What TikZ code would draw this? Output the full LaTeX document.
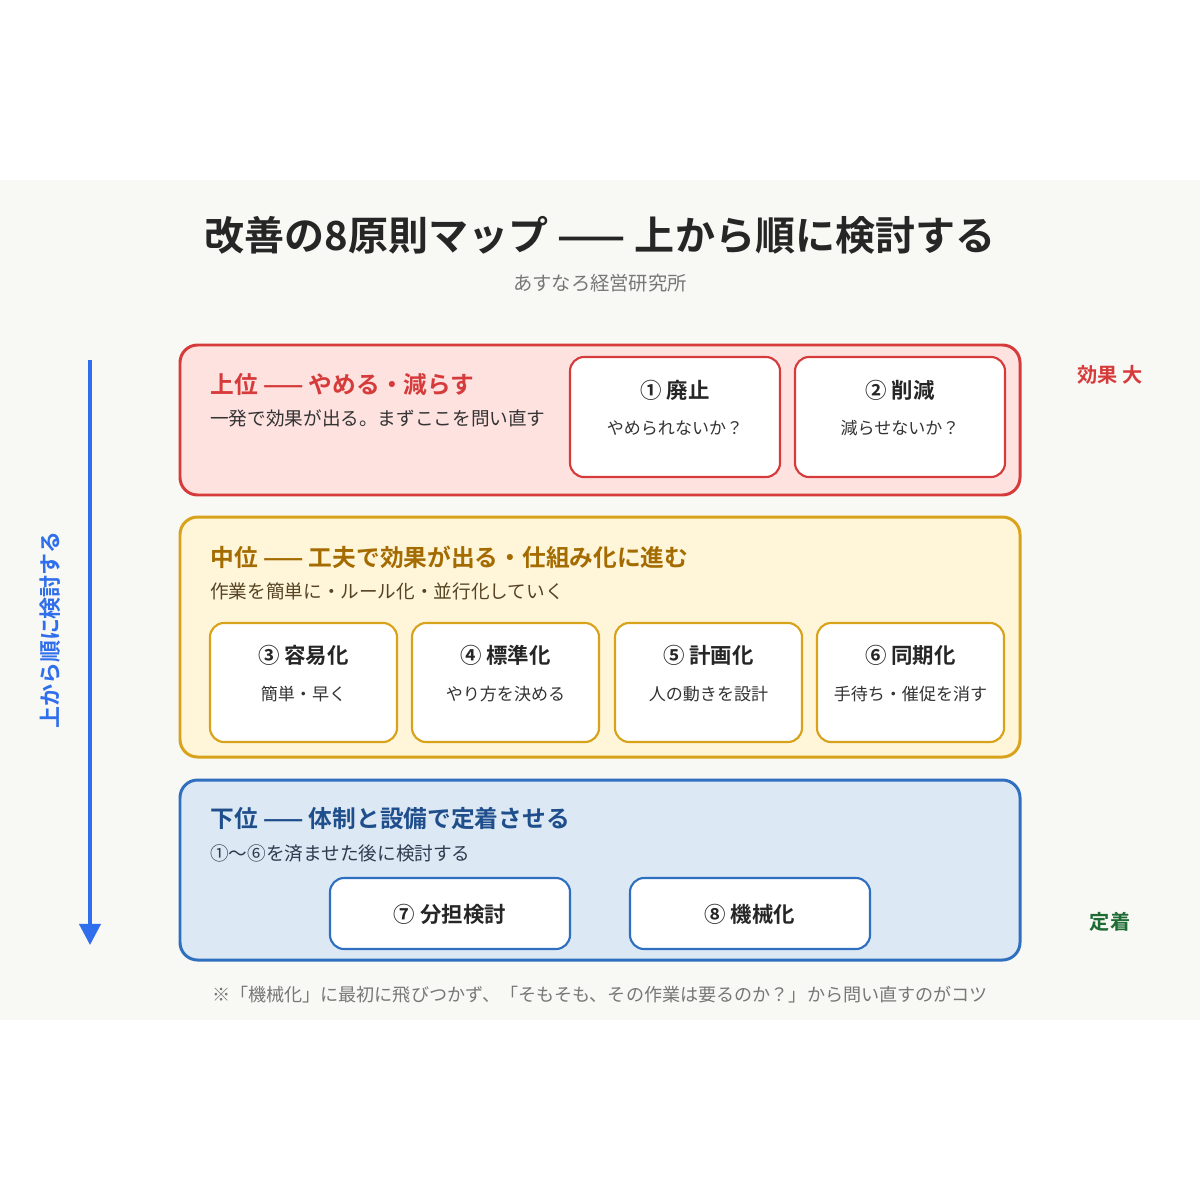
\documentclass[tikz,border=0pt]{standalone}
\usepackage{fontspec}
\setmainfont{Noto Sans CJK JP}[BoldFont={Noto Sans CJK JP Bold}]
\usetikzlibrary{arrows.meta}
\definecolor{bgpaper}{HTML}{F8F8F4}
\definecolor{redline}{HTML}{D63B3B}
\definecolor{redfill}{HTML}{FDE2E0}
\definecolor{yelline}{HTML}{D9A21B}
\definecolor{yelfill}{HTML}{FFF5D9}
\definecolor{yeltext}{HTML}{A46C00}
\definecolor{blueline}{HTML}{2F6FC0}
\definecolor{bluefill}{HTML}{DCE8F4}
\definecolor{bluetext}{HTML}{1F4E8C}
\definecolor{arrowblue}{HTML}{2F6FED}
\definecolor{greytext}{HTML}{777777}
\definecolor{darktext}{HTML}{333333}
\definecolor{greentext}{HTML}{1E6B34}
\tikzset{
  tier/.style={rounded corners=10pt, line width=1.7pt},
  card/.style={rounded corners=8pt, line width=1.2pt, fill=white},
  head/.style={anchor=west, inner sep=0pt, font=\fontsize{13.5}{15}\selectfont\bfseries},
  lead/.style={anchor=west, inner sep=0pt, font=\fontsize{10.6}{12}\selectfont},
  cardtitle/.style={font=\fontsize{12.2}{14}\selectfont\bfseries, text=black!85},
  cardsub/.style={font=\fontsize{9.7}{11}\selectfont, text=darktext},
}
\begin{document}
\begin{tikzpicture}[x=0.02cm,y=-0.02cm]
  \useasboundingbox (0,0) rectangle (1200,1200);
  \fill[bgpaper] (0,180) rectangle (1200,1020);

  % title
  \node[font=\fontsize{22.8}{26}\selectfont\bfseries, text=black!85] (title) at (600,235) {改善の8原則マップ —— 上から順に検討する};
  \node[font=\fontsize{11}{13}\selectfont, text=greytext] (org) at (600,283) {あすなろ経営研究所};

  % upper tier
  \draw[tier, draw=redline, fill=redfill] (180,345) rectangle (1020,495);
  \node[head, text=redline] (uhead) at (210,384) {上位 —— やめる・減らす};
  \node[lead, text=darktext] (ulead) at (210,418) {一発で効果が出る。まずここを問い直す};
  \foreach \x/\t/\s [count=\i] in {570/① 廃止/やめられないか？, 795/② 削減/減らせないか？}{
    \draw[card, draw=redline] (\x,357) rectangle (\x+210,477);
    \node[cardtitle] (ut\i) at (\x+105,390) {\t};
    \node[cardsub] (us\i) at (\x+105,428) {\s};
  }

  % middle tier
  \draw[tier, draw=yelline, fill=yelfill] (180,517) rectangle (1020,757);
  \node[head, text=yeltext] (mhead) at (210,557) {中位 —— 工夫で効果が出る・仕組み化に進む};
  \node[lead, text=darktext!70!yeltext] (mlead) at (210,591) {作業を簡単に・ルール化・並行化していく};
  \foreach \x/\t/\s [count=\i] in {210/③ 容易化/簡単・早く, 412/④ 標準化/やり方を決める,
      615/⑤ 計画化/人の動きを設計, 817/⑥ 同期化/手待ち・催促を消す}{
    \draw[card, draw=yelline] (\x,623) rectangle (\x+187,742);
    \node[cardtitle] (mt\i) at (\x+93.5,655) {\t};
    \node[cardsub] (ms\i) at (\x+93.5,694) {\s};
  }

  % lower tier
  \draw[tier, draw=blueline, fill=bluefill] (180,780) rectangle (1020,960);
  \node[head, text=bluetext] (lhead) at (210,819) {下位 —— 体制と設備で定着させる};
  \node[lead, text=darktext!70!bluetext] (llead) at (210,853) {①〜⑥を済ませた後に検討する};
  \foreach \x/\t [count=\i] in {330/⑦ 分担検討, 630/⑧ 機械化}{
    \draw[card, draw=blueline] (\x,878) rectangle (\x+240,949);
    \node[cardtitle] (lt\i) at (\x+120,914) {\t};
  }

  % side arrow and labels
  \coordinate (atop) at (90,360);
  \coordinate (abot) at (90,945);
  \draw[arrowblue, line width=2.2pt, -{Triangle[length=12pt,width=12pt]}] (atop) -- (abot);
  \node[rotate=90, font=\fontsize{12.5}{14}\selectfont\bfseries, text=arrowblue] (order) at (50,630) {上から順に検討する};
  \node[font=\fontsize{11.5}{13}\selectfont\bfseries, text=redline] (effect) at (1110,375) {効果 大};
  \node[font=\fontsize{11.5}{13}\selectfont\bfseries, text=greentext] (settle) at (1110,922) {定着};

  % footnote
  \node[font=\fontsize{10.3}{12}\selectfont, text=greytext] (note) at (600,995) {※「機械化」に最初に飛びつかず、「そもそも、その作業は要るのか？」から問い直すのがコツ};
\end{tikzpicture}
\end{document}
